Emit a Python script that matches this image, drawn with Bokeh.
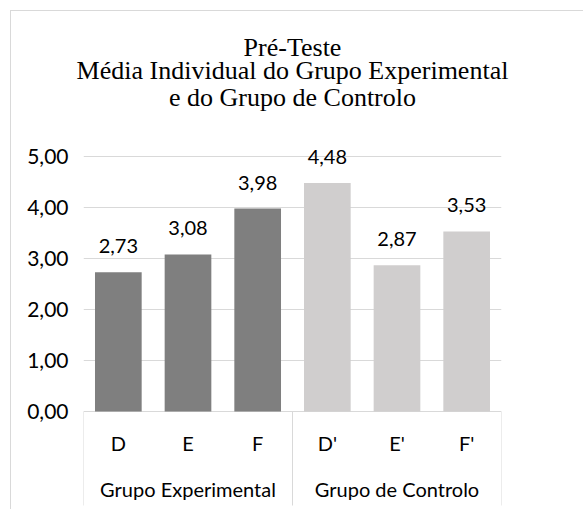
from bokeh.plotting import figure
from bokeh.models import FactorRange, FixedTicker, CustomJSTickFormatter, Range1d, Title
from bokeh.core.properties import value
from bokeh.embed import file_html
from bokeh.resources import INLINE

# ---- data ----
groups = ["Grupo Experimental", "Grupo de Controlo"]
members = [["D", "E", "F"], ["D'", "E'", "F'"]]
values = [2.73, 3.08, 3.98, 4.48, 2.87, 3.53]
y_ticks = [0, 1, 2, 3, 4, 5]
title_lines = ["Pré-Teste",
               "Média Individual do Grupo Experimental",
               "e do Grupo de Controlo"]
group_colors = ["#7f7f7f", "#d0cece"]

factors = [(g, m) for g, ms in zip(groups, members) for m in ms]
subs = [m for ms in members for m in ms]
colors = [group_colors[i] for i, ms in enumerate(members) for _ in ms]
labels = [f"{v:.2f}".replace(".", ",") for v in values]
separators = [(g, ms[0], -0.5) for g, ms in zip(groups, members)] + \
             [(groups[-1], members[-1][-1], 0.5)]

# ---- layout (pixels, page coordinates) ----
BORDER_AT = 10
FIG_X0 = FIG_Y0 = BORDER_AT + 1  # figure content starts after its 1px border
W, H = 584 - FIG_X0, 510 - FIG_Y0
FRAME_L, FRAME_R = 83, 501       # page x of plot area
FRAME_T = 114                    # page y of plot area top (titles sit above it)
ZERO_Y, PX_PER_UNIT = 411, 51.0
SEP_END_Y = 505
TITLE_STANDOFF = [-5, -12, 5]    # per title line, top to bottom

y_start = -(510 - ZERO_Y) / PX_PER_UNIT
y_end = (ZERO_Y - FRAME_T) / PX_PER_UNIT
sep_end = -(SEP_END_Y - ZERO_Y) / PX_PER_UNIT

FONT = value("Lato")
TXT = "#000000"
GRID = "#d9d9d9"

p = figure(width=W, height=H,
           x_range=FactorRange(*factors, factor_padding=0, group_padding=0, range_padding=0),
           y_range=Range1d(y_start, y_end),
           output_backend="svg", toolbar_location=None,
           min_border_left=FRAME_L - FIG_X0, min_border_right=584 - FRAME_R,
           min_border_top=FRAME_T - FIG_Y0, min_border_bottom=0)
p.styles = {"border-left": "1px solid #d9d9d9", "border-top": "1px solid #d9d9d9",
            "margin-left": f"{BORDER_AT}px", "margin-top": f"{BORDER_AT}px"}
p.outline_line_color = None
p.background_fill_color = "white"
p.border_fill_color = "white"

# title: three centred lines (first added sits nearest the plot)
p.title = None
for line, so in reversed(list(zip(title_lines, TITLE_STANDOFF))):
    p.add_layout(Title(text=line, align="center",
                       text_font="Liberation Serif", text_font_size="26px",
                       text_font_style="normal", text_color=TXT,
                       standoff=so), "above")

p.xaxis.visible = False
p.xgrid.grid_line_color = None

p.yaxis.ticker = FixedTicker(ticks=y_ticks)
p.yaxis.formatter = CustomJSTickFormatter(code="return tick.toFixed(2).replace('.', ',')")
p.yaxis.axis_line_color = None
p.yaxis.major_tick_line_color = None
p.yaxis.minor_tick_line_color = None
p.yaxis.major_tick_out = 0
p.yaxis.major_tick_in = 0
p.yaxis.major_label_standoff = 15
p.yaxis.major_label_text_font = "Lato"
p.yaxis.major_label_text_font_size = "21px"
p.yaxis.major_label_text_color = TXT

p.ygrid.ticker = FixedTicker(ticks=y_ticks)
p.ygrid.grid_line_color = GRID
p.ygrid.grid_line_width = 1

# bars
p.vbar(x=factors, top=values, width=0.67, fill_color=colors, line_color=None)

# group separators below the baseline
p.segment(x0=separators, y0=[0] * len(separators), x1=separators,
          y1=[sep_end] * len(separators), line_color=GRID, line_width=1)

# value labels
p.text(x=factors, y=values, text=labels, text_font=FONT, text_font_size="20px",
       text_color=TXT, text_align="center", text_baseline="middle", y_offset=-26)

# category labels
p.text(x=factors, y=[0] * len(factors), text=subs, text_font=FONT, text_font_size="20px",
       text_color=TXT, text_align="center", text_baseline="middle", y_offset=31)
p.text(x=groups, y=[0] * len(groups), text=groups, text_font=FONT, text_font_size="20px",
       text_color=TXT, text_align="center", text_baseline="middle", y_offset=77)

open("out.html", "w").write(file_html(p, INLINE))
